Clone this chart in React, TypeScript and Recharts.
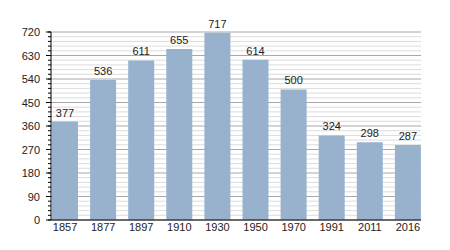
import { Bar, BarChart, CartesianGrid, LabelList, XAxis, YAxis } from 'recharts';

const years = ['1857', '1877', '1897', '1910', '1930', '1950', '1970', '1991', '2011', '2016'];
const population = [377, 536, 611, 655, 717, 614, 500, 324, 298, 287];
// minor ticks every 18, labelled major ones every 90
const yTicks = [
  0, 18, 36, 54, 72, 90, 108, 126, 144, 162, 180, 198, 216, 234, 252, 270, 288, 306, 324, 342, 360,
  378, 396, 414, 432, 450, 468, 486, 504, 522, 540, 558, 576, 594, 612, 630, 648, 666, 684, 702, 720,
];

const data = years.map((y, i) => ({ year: y, pop: population[i] }));

const FONT = '"Liberation Sans", Arial, sans-serif';
const font = { fontSize: 11, fill: '#222', fontFamily: FONT };

function YTick(props: any) {
  const { x, y, payload } = props;
  const v = payload.value;
  if (v % 90 !== 0) return null;
  const ax = x + 11; // axis line position (tickSize 3 + tickMargin 8)
  return (
    <g>
      <line x1={ax - 5} x2={ax} y1={y} y2={y} stroke="#000" />
      <text x={x} y={y} dy={4} textAnchor="end" fontSize={11} fill="#222" fontFamily={FONT}>
        {v}
      </text>
    </g>
  );
}

function GridLine(props: any) {
  const { x1, x2, y1, y2, index } = props;
  const major = index % 5 === 0;
  return <line x1={x1} x2={x2} y1={y1} y2={y2} stroke={major ? '#a8a8a8' : '#dcdcdc'} strokeWidth={1} />;
}

export default function App() {
  return (
    <div style={{ width: 450, height: 250, background: '#fff' }}>
      <style>{'body{margin:0}'}</style>
      <BarChart width={450} height={250} data={data} margin={{ top: 32, right: 29, left: 11, bottom: 0 }}>
        <CartesianGrid vertical={false} horizontal={GridLine} horizontalValues={yTicks} />
        <XAxis
          dataKey="year"
          tick={font}
          tickLine={false}
          tickSize={3}
          tickMargin={0}
          height={30}
          axisLine={{ stroke: '#000' }}
          padding={{ left: -5, right: -6 }}
          interval={0}
        />
        <YAxis
          domain={[0, 720]}
          ticks={yTicks}
          tick={<YTick />}
          tickSize={3}
          tickMargin={8}
          width={40}
          axisLine={{ stroke: '#000' }}
          tickLine={{ stroke: '#000' }}
          interval={0}
        />
        <Bar dataKey="pop" fill="#98b1cd" barSize={26} isAnimationActive={false}>
          <LabelList dataKey="pop" position="top" offset={5} style={font} />
        </Bar>
      </BarChart>
    </div>
  );
}
